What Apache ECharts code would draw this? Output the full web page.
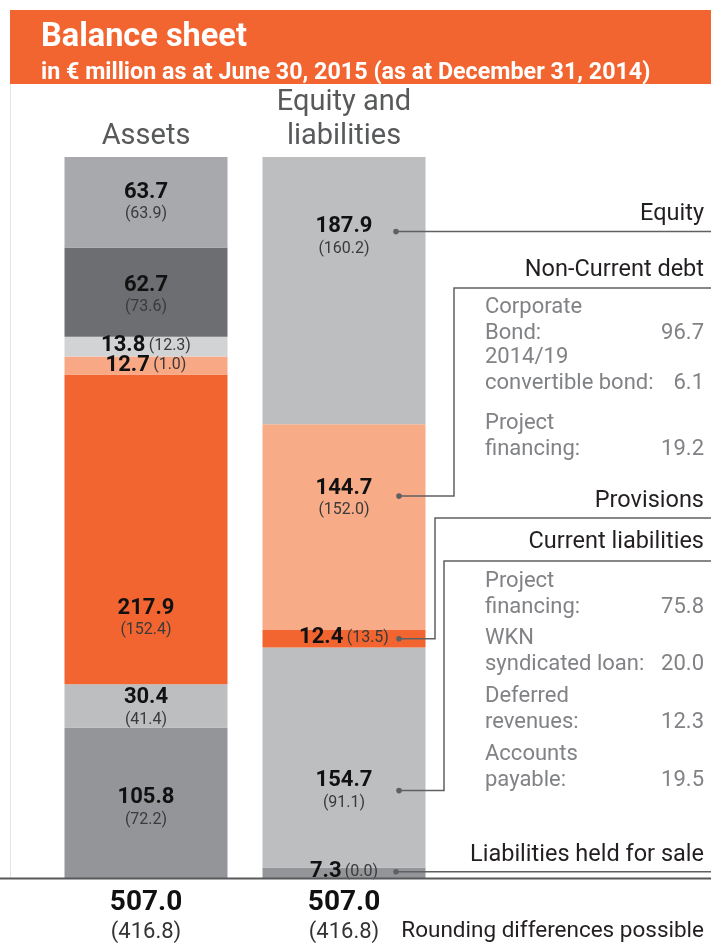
<!DOCTYPE html>
<html>
<head>
<meta charset="utf-8">
<script src="https://cdn.jsdelivr.net/npm/echarts@6/dist/echarts.min.js"></script>
<style>
  html, body { margin: 0; padding: 0; background: #fff; }
  #chart { width: 711px; height: 948px; }
</style>
</head>
<body>
<div id="chart"></div>
<script>
// categories and values, stacked from bottom to top
const categories = ['Assets', 'Equity and\nliabilities'];
const assetValues = [105.8, 30.4, 217.9, 12.7, 13.8, 62.7, 63.7];
const assetPrior = [72.2, 41.4, 152.4, 1.0, 12.3, 73.6, 63.9];
const liabNames = ['Liabilities held for sale', 'Current liabilities', 'Provisions', 'Non-Current debt', 'Equity'];
const liabValues = [7.3, 154.7, 12.4, 144.7, 187.9];
const liabPrior = [0.0, 91.1, 13.5, 152.0, 160.2];
const nonCurrentLabels = ['Corporate\nBond:', '2014/19\nconvertible bond:', 'Project\nfinancing:'];
const nonCurrentValues = [96.7, 6.1, 19.2];
const currentLabels = ['Project\nfinancing:', 'WKN\nsyndicated loan:', 'Deferred\nrevenues:', 'Accounts\npayable:'];
const currentValues = [75.8, 20.0, 12.3, 19.5];

const FONT = 'Roboto';
const orange = '#f26531';
const assetColors = ['#939598', '#bcbec0', orange, '#f9a886', '#d1d3d4', '#6d6e71', '#a7a9ac'];
const assetInline = [false, false, false, true, true, false, false];
const assetOffset = [5, 2, 89, 0, -1, 3, 0];
const liabColors = ['#939598', '#bcbec0', orange, '#f8ab87', '#bcbec0'];
const liabInline = [true, false, true, false, false];
const liabOffset = [-1, 33, -1, -29, -54];
const dotOffset = [-1, 33, 0, -31, -59];

const sum = a => a.reduce((s, v) => s + v, 0);
const fmt = v => v.toFixed(1);

function seg(value, prior, color, inline, off, catIndex) {
  const data = catIndex === 0 ? [value, '-'] : ['-', value];
  return {
    type: 'bar',
    stack: 'bs',
    barWidth: 163,
    data: data,
    itemStyle: { color: color },
    silent: true,
    label: {
      show: true,
      position: 'inside',
      offset: [0, off],
      formatter: inline
        ? '{b|' + fmt(value) + '} {p|(' + fmt(prior) + ')}'
        : '{b|' + fmt(value) + '}\n{p|(' + fmt(prior) + ')}',
      rich: {
        b: { fontFamily: FONT, fontSize: 22, fontWeight: 'bold', color: '#111', lineHeight: 24 },
        p: { fontFamily: FONT, fontSize: 16, color: '#3a3a3a', lineHeight: 20 }
      }
    }
  };
}

const series = [];
assetValues.forEach((v, i) => series.push(seg(v, assetPrior[i], assetColors[i], assetInline[i], assetOffset[i], 0)));
liabValues.forEach((v, i) => series.push(seg(v, liabPrior[i], liabColors[i], liabInline[i], liabOffset[i], 1)));

const totals = [sum(assetValues), sum(liabValues)];
const priorTotals = [sum(assetPrior), sum(liabPrior)];

var chartDom = document.getElementById('chart');
var myChart = echarts.init(chartDom);
var option = {
  backgroundColor: '#fff',
  animation: false,
  title: {
    text: 'Balance sheet',
    subtext: 'in € million as at June 30, 2015 (as at December 31, 2014)',
    left: 36,
    top: 15,
    itemGap: 4,
    z: 10,
    textStyle: { fontFamily: FONT, fontSize: 32.5, fontWeight: 'bold', color: '#fff', lineHeight: 36 },
    subtextStyle: { fontFamily: FONT, fontSize: 23.3, fontWeight: 'bold', color: '#fff', lineHeight: 26 }
  },
  grid: { left: 47, right: 268, top: 157, bottom: 70 },
  xAxis: [
    {
      type: 'category',
      position: 'top',
      data: categories,
      axisLine: { show: false },
      axisTick: { show: false },
      axisLabel: { fontFamily: FONT, fontSize: 29, color: '#58595b', lineHeight: 34, margin: 3 }
    },
    {
      type: 'category',
      position: 'bottom',
      data: categories,
      axisLine: { show: false },
      axisTick: { show: false },
      axisLabel: {
        margin: 10,
        formatter: (val, idx) => '{b|' + fmt(totals[idx]) + '}\n{p|(' + fmt(priorTotals[idx]) + ')}',
        rich: {
          b: { fontFamily: FONT, fontSize: 28, fontWeight: 'bold', color: '#111', lineHeight: 30 },
          p: { fontFamily: FONT, fontSize: 22, color: '#333', lineHeight: 28 }
        }
      }
    }
  ],
  yAxis: { type: 'value', min: 0, max: Math.max(totals[0], totals[1]), show: false },
  series: series
};
option && myChart.setOption(option);

// annotations on the right, anchored to the equity & liabilities segments
const lineCol = '#5f6062';
const px = v => myChart.convertToPixel({ xAxisIndex: 0, yAxisIndex: 0 }, [1, v]);
let base = 0;
const dotY = liabValues.map((v, i) => {
  const mid = px(base + v / 2)[1] + dotOffset[i];
  base += v;
  return mid;
});

const g = [];
const textEl = (t, x, y, color, size, align) => ({
  type: 'text', x: x, y: y, z: 100,
  style: { text: t, fill: color, font: size + 'px ' + FONT, align: align || 'right', verticalAlign: 'middle', lineHeight: 26 }
});
const poly = pts => ({ type: 'polyline', z: 100, shape: { points: pts }, style: { stroke: lineCol, lineWidth: 1.5, fill: null } });
const dot = (x, y) => ({ type: 'circle', z: 101, shape: { cx: x, cy: y, r: 2.8 }, style: { fill: lineCol } });

g.push({ type: 'rect', shape: { x: 10, y: 10, width: 701, height: 74 }, style: { fill: orange }, z: 0 });
g.push({ type: 'line', shape: { x1: 10.5, y1: 84, x2: 10.5, y2: 878 }, style: { stroke: '#e4e4e4', lineWidth: 1 } });
g.push({ type: 'line', z: 100, shape: { x1: 0, y1: 878.5, x2: 711, y2: 878.5 }, style: { stroke: '#58595b', lineWidth: 2 } });

const rx = 704, re = 711;
const labCol = '#231f20', subCol = '#808285', labSize = 23.5, subSize = 22;
// Equity
g.push(dot(396, dotY[4]), poly([[396, dotY[4]], [re, dotY[4]]]));
g.push(textEl(liabNames[4], rx, 214, labCol, labSize));
// Non-current debt
g.push(dot(399, dotY[3]), poly([[399, dotY[3]], [454, dotY[3]], [454, 288], [re, 288]]));
g.push(textEl(liabNames[3], rx, 270, labCol, labSize));
nonCurrentLabels.forEach((t, i) => {
  const y = [320, 370, 436][i];
  g.push(textEl(t, 485, y, subCol, subSize, 'left'));
  g.push(textEl(fmt(nonCurrentValues[i]), rx, y + 13, subCol, subSize));
});
// Provisions
g.push(dot(399, dotY[2]), poly([[399, dotY[2]], [435, dotY[2]], [435, 518], [re, 518]]));
g.push(textEl(liabNames[2], rx, 501, labCol, labSize));
// Current liabilities
g.push(dot(399, dotY[1]), poly([[399, dotY[1]], [444, dotY[1]], [444, 561], [re, 561]]));
g.push(textEl(liabNames[1], rx, 542, labCol, labSize));
currentLabels.forEach((t, i) => {
  const y = [594, 651, 709, 767][i];
  g.push(textEl(t, 485, y, subCol, subSize, 'left'));
  g.push(textEl(fmt(currentValues[i]), rx, y + 13, subCol, subSize));
});
// Liabilities held for sale
g.push(dot(396, dotY[0]), poly([[396, dotY[0]], [re, dotY[0]]]));
g.push(textEl(liabNames[0], rx, 855, labCol, labSize));
// footnote
g.push(textEl('Rounding differences possible', rx, 931, labCol, 22.5));

myChart.setOption({ graphic: { elements: g } });
</script>
</body>
</html>
